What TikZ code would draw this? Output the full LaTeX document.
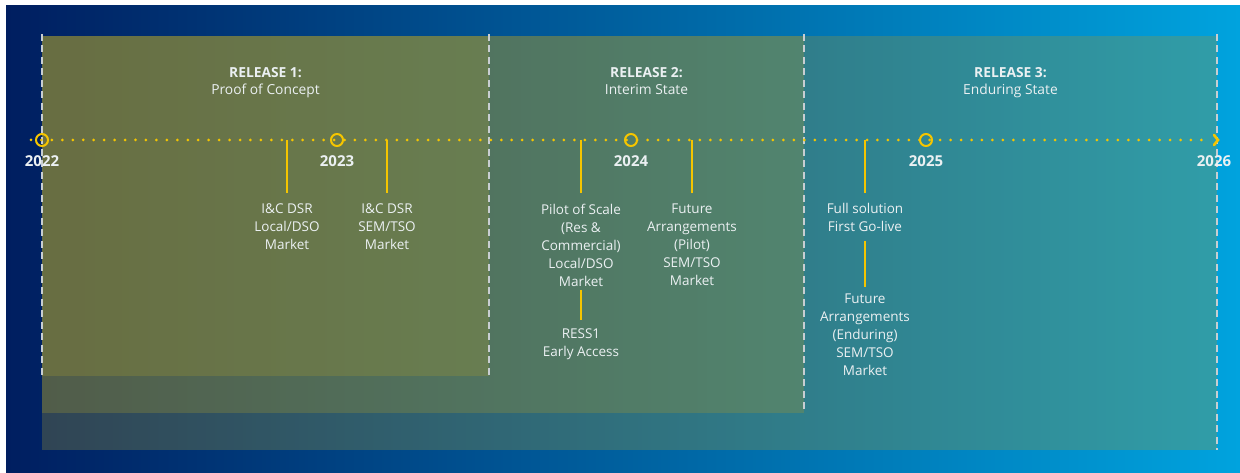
\documentclass[tikz,border=0pt]{standalone}
\usepackage{fontspec}
\setmainfont{Open Sans}
\definecolor{bgL}{RGB}{0,30,96}
\definecolor{bgR}{RGB}{0,163,222}
\definecolor{ov}{RGB}{160,150,50}
\definecolor{tl}{RGB}{245,197,0}
\definecolor{dashc}{RGB}{200,206,210}
\definecolor{txt}{RGB}{235,240,242}
\tikzset{
  overlay box/.style={fill=ov, fill opacity=0.3, draw=none},
  dashline/.style={draw=dashc, line width=1.6pt, dash pattern=on 7pt off 4.5pt},
  yearcirc/.style={circle, draw=tl, line width=2pt, minimum size=12pt, inner sep=0pt},
  yearlbl/.style={text=txt, font=\fontsize{15}{17}\selectfont\bfseries, anchor=north, inner sep=0pt},
  reltitle/.style={text=txt, font=\fontsize{13.8}{17}\selectfont, align=center, anchor=north, inner sep=0pt},
  lbl/.style={text=txt, font=\fontsize{13.5}{18}\selectfont, align=center, anchor=north, inner sep=0pt},
  tick/.style={draw=tl, line width=2pt},
}
\begin{document}
\begin{tikzpicture}[x=1pt,y=-1pt]
\useasboundingbox (0,0) rectangle (1240,473);
\fill[white] (0,0) rectangle (1240,473);
\shade[left color=bgL, right color=bgR] (6,6) rectangle (1240,473);
% release boxes
\fill[overlay box] (42,36) rectangle (1217,450);
\fill[overlay box] (42,36) rectangle (804,413);
\fill[overlay box] (42,36) rectangle (489,376);
% dashed boundaries
\draw[dashline] (42,34) -- (42,376);
\draw[dashline] (489,34) -- (489,376);
\draw[dashline] (804,34) -- (804,413);
\draw[dashline] (1217,34) -- (1217,450);
% release titles
\node[reltitle] (r1) at (265.5,67) {\textbf{RELEASE 1:}\\Proof of Concept};
\node[reltitle] (r2) at (646.5,67) {\textbf{RELEASE 2:}\\Interim State};
\node[reltitle] (r3) at (1010.5,67) {\textbf{RELEASE 3:}\\Enduring State};
% timeline
\coordinate (ts) at (31,140);
\coordinate (te) at (1211,140);
\draw[tl, line width=3pt, line cap=round, dash pattern=on 0pt off 10.45pt] (ts) -- (te);
\node[yearcirc] (c22) at (42,140) {};
\node[yearcirc] (c23) at (337,140) {};
\node[yearcirc] (c24) at (631,140) {};
\node[yearcirc] (c25) at (926,140) {};
\coordinate (c26) at (1218,140);
\draw[tl, line width=2.6pt, line cap=round] ([shift={(-4,-5)}]c26) -- (c26) -- ([shift={(-4,5)}]c26);
\node[yearlbl] (y22) at (42,155) {2022};
\node[yearlbl] (y23) at (337,155) {2023};
\node[yearlbl] (y24) at (631,155) {2024};
\node[yearlbl] (y25) at (926,155) {2025};
\node[yearlbl] (y26) at (1214,155) {2026};
% milestones
\coordinate (t1) at (287,140);
\coordinate (t2) at (387,140);
\coordinate (t3) at (581,140);
\coordinate (t4) at (692,140);
\coordinate (t5) at (865,140);
\node[lbl] (l1) at (287,203.5) {I\&C DSR\\Local/DSO\\Market};
\node[lbl] (l2) at (387,203.5) {I\&C DSR\\SEM/TSO\\Market};
\node[lbl] (l3) at (581,203.5) {Pilot of Scale\\(Res \&\\Commercial)\\Local/DSO\\Market};
\node[lbl] (l3b) at (581,328.5) {RESS1\\Early Access};
\node[lbl] (l4) at (692,203.5) {Future\\Arrangements\\(Pilot)\\SEM/TSO\\Market};
\node[lbl] (l5) at (865,203.5) {Full solution\\First Go-live};
\node[lbl] (l5b) at (865,293.5) {Future\\Arrangements\\(Enduring)\\SEM/TSO\\Market};
\draw[tick, shorten >=10.5pt] (t1) -- (l1.north);
\draw[tick, shorten >=10.5pt] (t2) -- (l2.north);
\draw[tick, shorten >=10.5pt] (t3) -- (l3.north);
\draw[tick, shorten >=10.5pt] (t4) -- (l4.north);
\draw[tick, shorten >=10.5pt] (t5) -- (l5.north);
\draw[tick, shorten <=3.5pt, shorten >=8.5pt] (l3.south) -- (l3b.north);
\draw[tick, shorten <=8.5pt, shorten >=6.5pt] (l5.south) -- (l5b.north);
\end{tikzpicture}
\end{document}
